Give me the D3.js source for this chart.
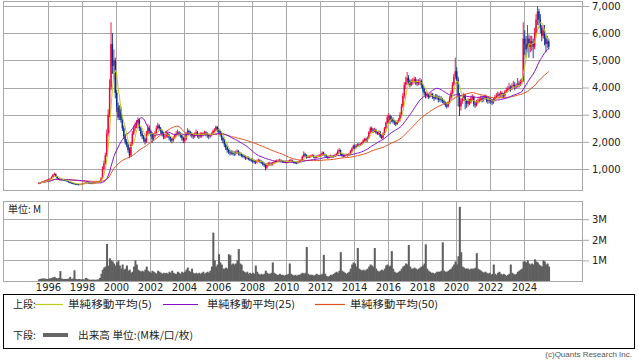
<!DOCTYPE html>
<html><head><meta charset="utf-8">
<script src="https://cdn.jsdelivr.net/npm/d3@7/dist/d3.min.js"></script>
<style>body{margin:0;background:#fff}svg{display:block}</style>
</head><body>
<svg id="chart" width="638" height="362"></svg>
<script>
// ---- data (monthly, June 1995 .. June 2025) ----
const firstMonth = { year: 1995, month: 6 };
const firstOpen = 470;
const closes = [
  480,500,520,540,560,580,600,
  620,640,700,780,820,720,660,620,600,610,600,590,
  570,550,520,500,480,470,460,450,440,430,440,450,
  470,480,490,500,490,480,470,480,490,500,510,520,
  540,650,1000,1200,1500,2300,3000,4000,5600,4800,5000,3800,
  3300,2900,3200,2800,2500,2200,2000,1900,1700,1500,1900,2300,
  2500,2600,2700,2800,2500,2300,2200,2100,2000,2300,2500,2400,
  2300,2100,2200,2300,2500,2600,2500,2400,2300,2200,2200,2300,
  2250,2150,2100,2050,2150,2250,2300,2350,2300,2250,2150,2050,
  2100,2300,2400,2350,2300,2250,2200,2300,2350,2250,2200,2300,
  2250,2300,2350,2300,2250,2200,2250,2300,2400,2450,2550,2450,
  2400,2300,2150,2050,1900,1800,1700,1620,1580,1600,1580,1550,
  1600,1650,1580,1550,1500,1480,1450,1400,1420,1380,1350,1320,
  1300,1280,1250,1300,1320,1280,1250,1200,1150,1050,1150,1200,
  1200,1180,1200,1250,1280,1300,1300,1320,1300,1280,1270,1260,
  1260,1280,1300,1320,1280,1250,1240,1230,1250,1280,1300,1450,
  1550,1500,1450,1450,1450,1480,1500,1450,1430,1450,1480,1500,
  1500,1600,1550,1500,1450,1420,1450,1480,1450,1470,1500,1550,
  1650,1700,1550,1500,1480,1500,1520,1500,1550,1650,1750,1850,
  1800,1850,1900,1880,1900,1950,2050,2100,2050,2150,2350,2500,
  2450,2400,2450,2350,2300,2350,2200,2150,2300,2500,2700,2900,
  2950,2800,2850,2750,2700,2650,2750,2800,3000,3300,3700,4100,
  4200,4350,4250,4100,4200,4250,4300,4200,4150,4200,4250,4100,
  3950,3800,3700,3750,3650,3700,3750,3650,3600,3700,3650,3550,
  3600,3550,3500,3450,3350,3300,3450,3600,3800,4100,4400,4600,
  4300,3700,3300,3500,3600,3700,3500,3400,3500,3450,3600,3650,
  3400,3350,3450,3500,3550,3600,3550,3600,3650,3550,3500,3550,
  3500,3450,3550,3650,3700,3750,3700,3800,3750,3700,3850,3900,
  3950,4000,3950,4050,4100,4000,4050,4150,4100,4200,4250,5800,
  5600,5400,5800,5500,5700,5600,5500,6000,6500,6800,6500,6200,
  5900,6100,5800,5600,5700,5500
];
const highs = [
  500,520,540,560,580,610,630,
  650,670,730,820,870,830,730,670,630,640,630,620,
  600,580,560,530,510,490,480,470,460,450,460,470,
  490,500,510,520,520,500,490,500,510,520,530,540,
  570,700,1100,1300,1600,2450,3200,4300,6400,6000,5400,5100,
  3900,3450,3350,3300,2900,2600,2300,2100,2000,1800,2000,2400,
  2600,2700,2800,2900,2850,2550,2400,2250,2150,2400,2650,2600,
  2450,2350,2300,2400,2600,2700,2650,2550,2450,2350,2300,2400,
  2350,2300,2200,2150,2200,2300,2400,2450,2400,2350,2300,2200,
  2200,2350,2500,2450,2400,2350,2300,2350,2450,2400,2300,2350,
  2350,2350,2400,2400,2350,2300,2300,2350,2450,2500,2600,2580,
  2500,2450,2350,2200,2100,1950,1850,1750,1700,1700,1680,1650,
  1680,1720,1700,1630,1600,1550,1530,1500,1480,1460,1420,1400,
  1380,1350,1330,1350,1380,1360,1320,1300,1250,1200,1220,1260,
  1270,1250,1260,1300,1330,1350,1360,1380,1360,1330,1320,1310,
  1310,1330,1350,1370,1350,1300,1290,1280,1300,1320,1350,1500,
  1650,1600,1540,1500,1500,1520,1550,1530,1490,1500,1520,1550,
  1560,1650,1640,1580,1530,1480,1500,1530,1510,1520,1550,1600,
  1720,1770,1720,1580,1540,1550,1570,1560,1600,1700,1800,1900,
  1900,1920,1950,1950,1960,2000,2100,2150,2150,2200,2400,2560,
  2560,2500,2520,2480,2400,2420,2400,2280,2350,2550,2750,2990,
  3050,3000,2950,2900,2800,2780,2800,2880,3100,3400,3800,4200,
  4400,4570,4450,4300,4300,4350,4400,4380,4300,4300,4350,4300,
  4150,4000,3850,3850,3800,3780,3820,3800,3700,3760,3750,3700,
  3700,3680,3620,3560,3500,3420,3500,3680,3900,4200,4500,5100,
  4750,4400,3800,3600,3700,3800,3750,3550,3600,3580,3700,3750,
  3700,3500,3550,3600,3650,3700,3680,3700,3750,3700,3600,3650,
  3620,3580,3620,3720,3800,3850,3820,3880,3850,3800,3900,4000,
  4050,4170,4080,4150,4250,4200,4150,4350,4250,4300,4350,6400,
  6100,5900,6300,5950,5900,5900,5800,6200,6700,7000,6900,6700,
  6300,6300,6300,5950,5900,5800
];
const lows = [
  460,470,490,510,530,550,570,
  590,610,630,690,760,700,640,600,580,590,580,570,
  550,530,500,480,460,450,440,420,410,400,420,430,
  440,460,470,480,470,460,450,460,470,480,490,500,
  510,530,640,950,1150,1450,2200,2900,3900,4500,4300,3600,
  3100,2800,2800,2700,2400,2100,1900,1800,1600,1400,1450,1850,
  2250,2400,2500,2600,2400,2200,2100,2000,1900,1950,2250,2300,
  2200,1950,2050,2150,2250,2450,2400,2300,2200,2100,2100,2150,
  2150,2050,2000,1950,2000,2100,2200,2250,2200,2150,2050,1950,
  1950,2050,2250,2250,2200,2150,2100,2150,2250,2150,2100,2150,
  2150,2200,2250,2200,2150,2100,2150,2200,2250,2350,2400,2350,
  2300,2200,2050,1950,1800,1700,1600,1550,1500,1520,1500,1480,
  1500,1550,1500,1480,1430,1420,1380,1330,1350,1320,1290,1260,
  1220,1200,1180,1200,1250,1220,1180,1130,1080,950,1000,1100,
  1120,1120,1130,1180,1220,1250,1250,1270,1250,1230,1220,1210,
  1200,1220,1250,1260,1230,1200,1190,1180,1200,1220,1250,1280,
  1420,1450,1380,1400,1400,1420,1450,1400,1380,1390,1420,1440,
  1440,1480,1500,1450,1400,1370,1390,1420,1400,1410,1440,1480,
  1520,1600,1500,1450,1430,1440,1470,1450,1480,1530,1620,1720,
  1720,1750,1800,1820,1840,1880,1930,2000,1980,2000,2100,2300,
  2350,2320,2350,2300,2250,2250,2150,2100,2100,2250,2450,2650,
  2700,2650,2720,2680,2620,2580,2620,2700,2750,2950,3250,3600,
  3950,4100,4100,4000,4050,4100,4150,4100,4050,4080,4100,3980,
  3850,3700,3600,3620,3580,3600,3650,3580,3500,3560,3560,3450,
  3480,3450,3420,3380,3280,3220,3260,3400,3550,3750,4050,4300,
  4150,3300,2950,3150,3400,3500,3200,3250,3300,3350,3400,3500,
  3300,3250,3300,3400,3450,3500,3450,3480,3550,3450,3400,3420,
  3400,3350,3400,3500,3600,3650,3600,3650,3650,3600,3650,3800,
  3850,3900,3850,3900,4000,3900,3950,4000,4000,4050,4120,4200,
  5200,5100,5300,5100,5300,5350,5080,5400,5900,6300,6300,6000,
  5700,5800,5550,5300,5450,5400
];
// volume in millions
const volumes = [
  0.08,0.1,0.12,0.12,0.12,0.1,0.1,
  0.12,0.12,0.15,0.18,0.2,0.15,0.12,0.15,0.48,0.12,0.1,0.1,
  0.1,0.1,0.12,0.2,0.1,0.12,0.52,0.1,0.08,0.1,0.08,0.08,
  0.08,0.07,0.15,0.12,0.08,0.06,0.06,0.07,0.06,0.06,0.07,0.08,
  0.15,0.35,0.55,0.65,0.7,1.8,0.75,1.1,1.0,0.95,0.85,0.75,
  0.9,1.0,0.75,0.6,0.8,0.55,0.6,0.75,0.5,0.55,0.4,0.45,
  0.7,1.0,0.8,0.55,0.5,0.45,0.5,0.45,0.55,0.7,0.5,0.45,
  0.4,0.5,0.45,0.4,0.35,0.5,0.45,0.4,0.35,0.4,0.38,0.4,
  0.35,0.45,0.4,0.5,0.4,0.35,0.35,0.45,0.4,0.35,0.45,0.4,
  0.45,0.55,0.65,0.5,0.45,0.6,0.4,0.35,0.4,0.35,0.4,0.35,
  0.4,0.45,0.35,0.4,0.45,0.4,0.5,0.7,2.35,1.0,0.7,0.8,
  1.3,0.9,0.8,0.6,0.6,0.65,0.6,1.3,1.25,0.8,0.85,0.8,
  0.85,1.0,1.55,0.85,0.8,0.5,0.45,0.4,0.45,0.35,0.4,0.35,
  0.4,0.35,0.75,0.45,0.35,0.3,0.35,0.3,0.35,0.5,0.4,0.35,
  0.35,0.4,0.9,0.4,0.35,0.3,0.3,0.35,0.3,0.3,0.25,0.3,
  0.3,0.35,0.85,0.35,0.3,0.25,0.3,0.25,0.3,0.3,0.35,0.4,
  0.35,0.4,1.65,0.35,0.3,0.3,0.3,0.25,0.3,0.35,0.3,0.3,
  0.3,0.35,1.27,0.35,0.25,0.2,0.25,0.3,0.3,0.35,0.4,0.45,
  0.4,0.5,1.4,0.5,0.45,0.4,0.35,0.4,0.45,0.6,0.8,0.9,
  0.85,0.7,1.6,0.6,0.55,0.5,0.55,0.5,0.55,0.6,0.7,0.8,
  0.75,0.7,1.6,0.6,0.5,0.45,0.5,0.55,0.5,0.6,0.75,0.8,
  0.7,0.75,1.45,0.6,0.45,0.4,0.4,0.45,0.5,0.6,0.7,0.75,
  0.85,0.8,1.75,0.7,0.6,0.6,0.65,0.6,0.55,0.6,0.65,0.7,
  0.75,0.85,1.78,0.6,0.5,0.45,0.4,0.4,0.35,0.4,0.45,0.45,
  0.45,0.5,1.88,0.5,0.45,0.45,0.5,0.55,0.6,0.7,0.8,0.95,
  0.8,1.2,3.6,1.4,0.7,0.65,0.6,0.6,0.6,0.55,0.6,0.6,
  0.6,0.65,1.35,0.6,0.55,0.5,0.45,0.4,0.45,0.4,0.35,0.4,
  0.3,0.35,0.8,0.35,0.3,0.4,0.45,0.35,0.3,0.35,0.3,0.25,
  0.3,0.35,0.8,0.4,0.35,0.3,0.35,0.45,0.5,0.55,0.6,0.95,
  0.95,0.9,1.0,0.85,0.8,0.85,0.8,1.05,0.95,0.9,0.8,0.75,
  0.7,1.0,0.95,0.8,0.85,0.7
];
const yearTicks = [1996,1998,2000,2002,2004,2006,2008,2010,2012,2014,2016,2018,2020,2022,2024];
const priceTicks = [1000,2000,3000,4000,5000,6000,7000];
const volumeTicks = [1,2,3];
const volumeTickLabels = ["1M","2M","3M"];
const maPeriods = [5,25,50];
const maLabels = ["単純移動平均(5)","単純移動平均(25)","単純移動平均(50)"];
const maColors = ["#bccb1c","#8a10c8","#e0501c"];
const upColor = "#f0003c", downColor = "#0c2c8c";

// ---- layout ----
const svg = d3.select("#chart");
svg.append("rect").attr("width",638).attr("height",362).attr("fill","#fff");
const L = 3, R = 583;
const topY0 = 1, topY1 = 190, volY0 = 201, volY1 = 281;
const gridColor = "#a8a8a8";

const x = d3.scaleTime()
  .domain([new Date(1996,0,1), new Date(2024,0,1)])
  .range([48, 524]);
const yP = d3.scaleLinear().domain([1000,7000]).range([169,6]);
const yV = d3.scaleLinear().domain([0,3]).range([281,219.2]);

const months = closes.map((_,i)=> new Date(firstMonth.year, firstMonth.month-1+i, 1));
const nextMonth = closes.map((_,i)=> new Date(firstMonth.year, firstMonth.month+i, 1));

const cx = v => Math.round(v)+0.5;

// clip paths
const defs = svg.append("defs");
defs.append("clipPath").attr("id","clipTop").append("rect")
  .attr("x",L).attr("y",topY0).attr("width",R-L).attr("height",topY1-topY0);
defs.append("clipPath").attr("id","clipVol").append("rect")
  .attr("x",L).attr("y",volY0).attr("width",R-L).attr("height",volY1-volY0);

// gridlines
function vgrid(y0,y1){
  svg.append("g").selectAll("line").data(yearTicks).join("line")
    .attr("x1",d=>cx(x(new Date(d,0,1)))).attr("x2",d=>cx(x(new Date(d,0,1))))
    .attr("y1",y0).attr("y2",y1).attr("stroke",gridColor).attr("stroke-width",1);
}
vgrid(topY0, topY1); vgrid(volY0, volY1);
svg.append("g").selectAll("line").data(priceTicks).join("line")
  .attr("x1",L).attr("x2",R).attr("y1",d=>cx(yP(d))).attr("y2",d=>cx(yP(d)))
  .attr("stroke",gridColor);
svg.append("g").selectAll("line").data(volumeTicks).join("line")
  .attr("x1",L).attr("x2",R).attr("y1",d=>cx(yV(d))).attr("y2",d=>cx(yV(d)))
  .attr("stroke",gridColor);

// candles
const cg = svg.append("g").attr("clip-path","url(#clipTop)");
closes.forEach((c,i)=>{
  const o = i===0 ? firstOpen : closes[i-1];
  const col = c >= o ? upColor : downColor;
  const x0 = x(months[i]), x1 = x(nextMonth[i]);
  const xm = (x0+x1)/2;
  cg.append("line").attr("x1",xm).attr("x2",xm)
    .attr("y1",yP(highs[i])).attr("y2",yP(lows[i]))
    .attr("stroke",col).attr("stroke-width",0.9);
  const yt = yP(Math.max(o,c)), yb = yP(Math.min(o,c));
  cg.append("rect").attr("x",x0).attr("width",Math.max(1,x1-x0))
    .attr("y",yt).attr("height",Math.max(1,yb-yt)).attr("fill",col);
});

// moving averages
maPeriods.slice().reverse().forEach((n,k)=>{
  const idx = maPeriods.length-1-k;
  const ma = closes.map((_,i)=> d3.mean(closes.slice(Math.max(0,i-n+1), i+1)));
  const line = d3.line()
    .x((d,i)=> (x(months[i])+x(nextMonth[i]))/2)
    .y(d=> yP(d));
  cg.append("path").datum(ma).attr("d",line)
    .attr("fill","none").attr("stroke",maColors[idx]).attr("stroke-width",1);
});

// volume bars
svg.append("g").attr("clip-path","url(#clipVol)").selectAll("rect").data(volumes).join("rect")
  .attr("x",(d,i)=>x(months[i]))
  .attr("width",(d,i)=>x(nextMonth[i])-x(months[i])+0.6)
  .attr("y",d=>yV(d)).attr("height",d=>yV(0)-yV(d))
  .attr("fill","#5f5f5f");

// frames
[[topY0,topY1],[volY0,volY1]].forEach(([a,b])=>{
  svg.append("rect").attr("x",L+0.5).attr("y",a+0.5).attr("width",R-L-1).attr("height",b-a)
    .attr("fill","none").attr("stroke",gridColor);
});

// right axes
const font = "DejaVu Sans, Verdana, sans-serif";
const pa = svg.append("g").attr("transform",`translate(${R},0)`)
  .call(d3.axisRight(yP).tickValues(priceTicks).tickSize(6).tickPadding(3).tickFormat(d3.format(",")));
const va = svg.append("g").attr("transform",`translate(${R},0)`)
  .call(d3.axisRight(yV).tickValues(volumeTicks).tickSize(6).tickPadding(3).tickFormat((d,i)=>volumeTickLabels[i]));
[pa,va].forEach(g=>{
  g.select(".domain").remove();
  g.selectAll(".tick line").attr("stroke",gridColor);
  g.selectAll(".tick text").attr("font-family",font).attr("font-size",10).attr("fill","#222");
});

// x axis labels
const xa = svg.append("g").attr("transform",`translate(0,${volY1})`)
  .call(d3.axisBottom(x).tickValues(yearTicks.map(y=>new Date(y,0,1))).tickSize(0).tickPadding(3)
    .tickFormat(d3.timeFormat("%Y")));
xa.select(".domain").remove();
xa.selectAll(".tick text").attr("font-family",font).attr("font-size",10).attr("fill","#222");

// unit label
const cjk = "Noto Sans CJK JP, sans-serif";
svg.append("text").attr("x",8).attr("y",213).attr("font-family",cjk).attr("font-size",10)
  .attr("fill","#222").text("単位: M");

// legend
svg.append("rect").attr("x",3.5).attr("y",294.5).attr("width",631).attr("height",54)
  .attr("fill","none").attr("stroke","#000");
svg.append("text").attr("x",13).attr("y",308).attr("font-family",cjk).attr("font-size",10).attr("fill","#222").text("上段:");
const legX = [[35,63,68],[163,198,207],[315,345,350]];
maLabels.forEach((t,i)=>{
  svg.append("line").attr("x1",legX[i][0]).attr("x2",legX[i][1]).attr("y1",304.5).attr("y2",304.5)
    .attr("stroke",maColors[i]).attr("stroke-width",1.2);
  svg.append("text").attr("x",legX[i][2]).attr("y",308).attr("font-family",cjk).attr("font-size",10)
    .attr("fill","#222").attr("textLength",i===0?84:88).attr("lengthAdjust","spacingAndGlyphs").text(t);
});
svg.append("text").attr("x",13).attr("y",339).attr("font-family",cjk).attr("font-size",10).attr("fill","#222").text("下段:");
svg.append("line").attr("x1",43).attr("x2",68).attr("y1",335).attr("y2",335).attr("stroke","#666").attr("stroke-width",4);
svg.append("text").attr("x",78).attr("y",339).attr("font-family",cjk).attr("font-size",10).attr("fill","#222")
  .attr("textLength",115).attr("lengthAdjust","spacingAndGlyphs").text("出来高 単位:(M株/口/枚)");

svg.append("text").attr("x",632).attr("y",357).attr("text-anchor","end")
  .attr("font-family","Liberation Sans, Arial, sans-serif").attr("font-size",8).attr("fill","#555")
  .text("(c)Quants Research Inc.");
</script>
</body></html>
